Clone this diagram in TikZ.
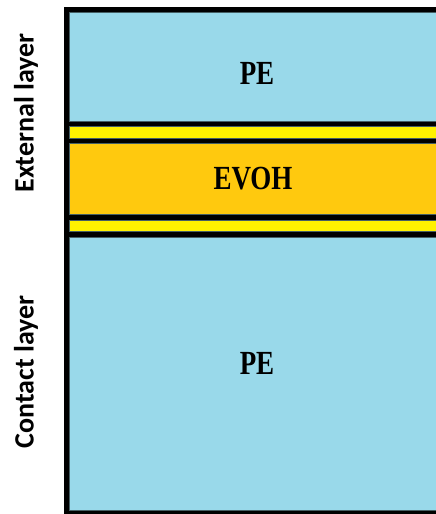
\documentclass[tikz,border=0pt]{standalone}
\usepackage{fontspec}
\usepackage{graphicx}
\setmainfont{Liberation Serif}
\newfontfamily\lblfont{Carlito}
\definecolor{peblue}{RGB}{153,217,234}
\definecolor{tieyellow}{RGB}{255,242,0}
\definecolor{evohgold}{RGB}{255,201,14}
\definecolor{edgegray}{RGB}{70,95,100}
\tikzset{
  layer/.style={draw=edgegray, line width=0.8pt},
  layertext/.style={font=\bfseries\fontsize{27}{27}\selectfont, inner sep=0pt},
  sidelabel/.style={font=\lblfont\bfseries\fontsize{28}{28}\selectfont, rotate=90, anchor=base, inner sep=0pt}
}
\begin{document}
\begin{tikzpicture}[x=1pt,y=-1pt]
\useasboundingbox (0,0) rectangle (436,514);
% black backing frame
\fill[black] (64,7) rectangle (436,513.5);
% layers
\filldraw[layer, fill=peblue] (69.4,12) rectangle (437,121);
\filldraw[layer, fill=tieyellow] (69.4,126) rectangle (437,138);
\filldraw[layer, fill=evohgold] (69.4,143.3) rectangle (437,214.3);
\filldraw[layer, fill=tieyellow] (69.4,220) rectangle (437,231.7);
\filldraw[layer, fill=peblue] (69.4,237) rectangle (437,510.8);
% layer texts
\node[layertext] (pe1) at (257,73) {\scalebox{1}[1.25]{PE}};
\node[layertext] (evoh) at (253,178.5) {\scalebox{1}[1.25]{EVOH}};
\node[layertext] (pe2) at (257,363.5) {\scalebox{1}[1.25]{PE}};
% side labels
\node[sidelabel] (ext) at (33.5,113) {External layer};
\node[sidelabel] (con) at (33.5,372) {Contact layer};
\end{tikzpicture}
\end{document}
